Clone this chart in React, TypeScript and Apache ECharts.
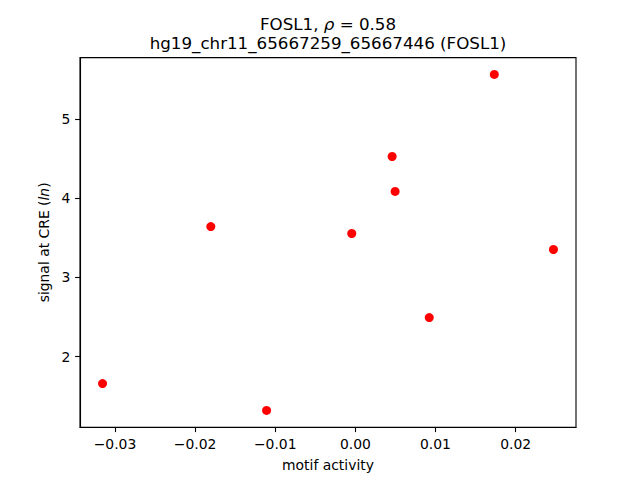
import { useEffect, useRef } from "react";
import * as echarts from "echarts";

// ---- data ----
const motifActivity = [-0.03155, -0.01804, -0.01108, -0.00045, 0.00459, 0.00496, 0.00922, 0.01734, 0.02472];
const creSignal = [1.659, 3.643, 1.32, 3.555, 4.528, 4.086, 2.493, 5.565, 3.353];
const xTicks = [-0.03, -0.02, -0.01, 0.0, 0.01, 0.02];
const yTicks = [2, 3, 4, 5];
const geneName = "FOSL1";
const rhoValue = "0.58";
const regionLabel = "hg19_chr11_65667259_65667446 (FOSL1)";
const xAxisLabel = "motif activity";

const FONT = "DejaVu Sans";

function padded(values: number[]): [number, number] {
  const lo = Math.min(...values);
  const hi = Math.max(...values);
  const m = (hi - lo) * 0.05;
  return [lo - m, hi + m];
}

export default function App() {
  const ref = useRef<HTMLDivElement>(null);

  useEffect(() => {
    if (!ref.current) return;
    const chart = echarts.init(ref.current, undefined, { renderer: "svg" });
    const [xMin, xMax] = padded(motifActivity);
    const [yMin, yMax] = padded(creSignal);
    const italic = { fontStyle: "italic" as const, fontFamily: FONT, fontSize: 16.7, color: "#000" };

    chart.setOption({
      animation: false,
      backgroundColor: "#fff",
      grid: {
        left: 80,
        right: 64,
        top: 57.6,
        bottom: 52.8,
        show: true,
        borderColor: "#000",
        borderWidth: 1.1,
        backgroundColor: "transparent",
        outerBoundsMode: "none",
      },
      graphic: [
        {
          type: "text",
          x: 328,
          y: 23.5,
          style: {
            text: `${geneName}, {i|ρ} = ${rhoValue}`,
            align: "center",
            verticalAlign: "middle",
            fontFamily: FONT,
            fontSize: 16.7,
            fill: "#000",
            rich: { i: italic },
          },
        },
        {
          type: "text",
          x: 328,
          y: 43,
          style: {
            text: regionLabel,
            align: "center",
            verticalAlign: "middle",
            fontFamily: FONT,
            fontSize: 16.7,
            fill: "#000",
          },
        },
      ],
      xAxis: {
        type: "value",
        min: xMin,
        max: xMax,
        name: xAxisLabel,
        nameLocation: "middle",
        nameGap: 31,
        nameTextStyle: { fontFamily: FONT, fontSize: 13.9, color: "#000" },
        axisLine: { show: true, onZero: false, lineStyle: { color: "#000", width: 1.1 } },
        axisTick: { show: true, length: 4.9, customValues: xTicks, lineStyle: { color: "#000", width: 1.1 } },
        axisLabel: {
          customValues: xTicks,
          margin: 9.7,
          fontFamily: FONT,
          fontSize: 13.9,
          color: "#000",
          formatter: (v: number) => v.toFixed(2).replace("-", "\u2212"),
        },
        splitLine: { show: false },
      },
      yAxis: {
        type: "value",
        min: yMin,
        max: yMax,
        name: "signal at CRE ({i|ln})",
        nameLocation: "middle",
        nameGap: 28,
        nameTextStyle: {
          fontFamily: FONT,
          fontSize: 13.9,
          color: "#000",
          rich: { i: { fontStyle: "italic", fontFamily: FONT, fontSize: 13.9, color: "#000" } },
        },
        axisLine: { show: true, onZero: false, lineStyle: { color: "#000", width: 1.1 } },
        axisTick: { show: true, length: 4.9, customValues: yTicks, lineStyle: { color: "#000", width: 1.1 } },
        axisLabel: {
          customValues: yTicks,
          margin: 9.7,
          fontFamily: FONT,
          fontSize: 13.9,
          color: "#000",
          formatter: (v: number) => String(v),
        },
        splitLine: { show: false },
      },
      series: [
        {
          type: "scatter",
          data: motifActivity.map((x, i) => [x, creSignal[i]]),
          symbol: "circle",
          symbolSize: 9,
          itemStyle: { color: "#ff0000", opacity: 1 },
        },
      ],
    });

    return () => chart.dispose();
  }, []);

  return (
    <div
      ref={ref}
      style={{ position: "absolute", left: 0, top: 0, width: 640, height: 480 }}
    />
  );
}
